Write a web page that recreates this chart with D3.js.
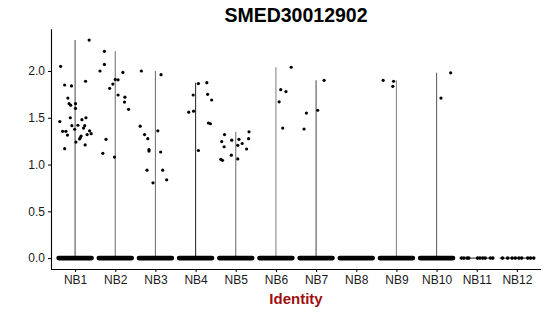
<!DOCTYPE html>
<html><head><meta charset="utf-8">
<script src="https://cdn.jsdelivr.net/npm/d3@7"></script>
<style>body{margin:0;background:#fff}svg{display:block}</style>
</head><body><div id="chart"></div>
<script>
const title = "SMED30012902";
const xTitle = "Identity";
const categories = ["NB1","NB2","NB3","NB4","NB5","NB6","NB7","NB8","NB9","NB10","NB11","NB12"];
const yTicks = [0, 0.5, 1.0, 1.5, 2.0];
// maximum expression per identity (violin top); 0 = all cells zero
const maxValue = [2.33, 2.21, 2.00, 1.875, 1.35, 2.04, 1.90, 0, 1.90, 1.98, 0, 0];
// dense cluster of zero-expression cells (true) or sparse (false)
const denseZero = [true,true,true,true,true,true,true,true,true,true,false,false];
// non-zero cells: identity, value, jitter (in category widths)
const ptCat = [
  "NB1","NB1","NB1","NB1","NB1","NB1","NB1","NB1","NB1","NB1","NB1","NB1","NB1","NB1","NB1","NB1","NB1","NB1","NB1","NB1","NB1","NB1","NB1","NB1","NB1","NB1","NB1","NB1","NB1","NB1","NB1",
  "NB2","NB2","NB2","NB2","NB2","NB2","NB2","NB2","NB2","NB2","NB2","NB2","NB2","NB2","NB2",
  "NB3","NB3","NB3","NB3","NB3","NB3","NB3","NB3","NB3","NB3","NB3","NB3","NB3",
  "NB4","NB4","NB4","NB4","NB4","NB4","NB4","NB4","NB4","NB4",
  "NB5","NB5","NB5","NB5","NB5","NB5","NB5","NB5","NB5","NB5","NB5","NB5","NB5","NB5",
  "NB6","NB6","NB6","NB6","NB6",
  "NB7","NB7","NB7","NB7",
  "NB9","NB9","NB9",
  "NB10","NB10"];
const ptValue = [
  2.33,2.05,1.89,1.85,1.84,1.71,1.65,1.635,1.65,1.60,1.50,1.46,1.50,1.48,1.415,1.42,1.415,1.39,1.377,1.355,1.355,1.315,1.36,1.33,1.32,1.305,1.287,1.273,1.24,1.21,1.17,
  2.21,2.07,2.00,1.985,1.91,1.905,1.86,1.815,1.743,1.72,1.668,1.59,1.27,1.12,1.08,
  2.00,1.96,1.41,1.32,1.276,1.36,1.16,1.144,1.134,0.94,0.94,0.837,0.805,
  1.865,1.875,1.743,1.75,1.69,1.56,1.57,1.444,1.436,1.15,
  1.32,1.245,1.19,1.056,1.045,1.26,1.10,1.06,1.27,1.205,1.225,1.35,1.276,1.166,
  2.04,1.80,1.78,1.67,1.39,
  1.90,1.58,1.55,1.38,
  1.90,1.89,1.836,
  1.98,1.71];
const ptJitter = [
  0.35,-0.36,0.26,-0.26,-0.09,-0.18,-0.15,-0.11,0.01,0.01,-0.12,-0.38,0.27,0.17,-0.08,0.07,0.24,0.21,-0.01,-0.31,-0.23,-0.19,0.36,0.40,0.30,0.15,0.13,0.11,0.02,0.25,-0.26,
  -0.27,-0.27,-0.38,0.19,0.0,0.07,-0.06,-0.14,0.07,0.24,0.23,0.33,-0.23,-0.31,-0.02,
  -0.35,0.14,-0.38,-0.27,-0.19,0.06,-0.16,-0.16,0.13,-0.21,0.18,0.28,-0.06,
  0.07,0.28,-0.06,0.30,0.40,-0.17,-0.05,0.32,0.37,0.07,
  -0.28,-0.35,-0.29,-0.37,-0.33,-0.10,-0.11,0.05,0.08,0.05,0.16,0.33,0.32,0.27,
  0.38,0.12,0.25,0.08,0.17,
  0.20,0.04,-0.24,-0.30,
  -0.33,-0.07,-0.09,
  0.35,0.11];
// sparse zero-expression cells (jitter in category widths)
const zeroCat = ["NB11","NB11","NB11","NB11","NB11","NB11","NB11","NB11","NB11","NB11",
                 "NB12","NB12","NB12","NB12","NB12","NB12","NB12","NB12","NB12"];
const zeroJitter = [-0.38,-0.32,-0.24,-0.20,0.02,0.08,0.15,0.21,0.34,0.40,
                    -0.36,-0.23,-0.12,-0.04,0.05,0.12,0.27,0.34,0.42];

// styles
const lineGrey = ["#555","#777","#777","#333","#777","#888","#555","#777","#888","#666","#777","#777"];

const W = 550, H = 316;
const m = {left: 51, right: 9, top: 29.2, bottom: 47};
const svg = d3.select("#chart").append("svg").attr("width", W).attr("height", H);

const x = d3.scalePoint().domain(categories).range([m.left, W - m.right]).padding(0.6);
const step = x.step();
const yMax = d3.max(ptValue);
const pad = 0.05 * yMax;
const y = d3.scaleLinear().domain([-pad, yMax + pad]).range([H - m.bottom, m.top]);

const g = svg.append("g");

// violin (trimmed, very thin): base line + stem to max
categories.forEach((c, i) => {
  g.append("line")
    .attr("x1", x(c) - 0.43 * step).attr("x2", x(c) + 0.43 * step)
    .attr("y1", y(0)).attr("y2", y(0))
    .attr("stroke", "#222").attr("stroke-width", 1);
  if (maxValue[i] > 0) {
    g.append("line")
      .attr("x1", x(c)).attr("x2", x(c))
      .attr("y1", y(0)).attr("y2", y(maxValue[i]))
      .attr("stroke", lineGrey[i]).attr("stroke-width", 1.1);
  }
});

// dense zero cells
categories.forEach((c, i) => {
  if (denseZero[i]) {
    g.append("line")
      .attr("x1", x(c) - 0.41 * step).attr("x2", x(c) + 0.41 * step)
      .attr("y1", y(0)).attr("y2", y(0))
      .attr("stroke", "#000").attr("stroke-width", 4.6)
      .attr("stroke-linecap", "round");
  }
});
// sparse zero cells
g.selectAll("circle.z").data(zeroCat).join("circle").attr("class", "z")
  .attr("cx", (d, i) => x(d) + zeroJitter[i] * step)
  .attr("cy", y(0)).attr("r", 1.8).attr("fill", "#000");

// non-zero cells
g.selectAll("circle.p").data(ptCat).join("circle").attr("class", "p")
  .attr("cx", (d, i) => x(d) + ptJitter[i] * step)
  .attr("cy", (d, i) => y(ptValue[i])).attr("r", 1.6).attr("fill", "#000");

// axes
const yAxis = svg.append("g").attr("transform", `translate(${m.left},0)`)
  .call(d3.axisLeft(y).tickValues(yTicks).tickFormat(d3.format(".1f")).tickSize(3).tickPadding(3));
const xAxis = svg.append("g").attr("transform", `translate(0,${H - m.bottom})`)
  .call(d3.axisBottom(x).tickSize(3).tickPadding(3));
[yAxis, xAxis].forEach(a => {
  a.select(".domain").attr("stroke", "#000").attr("stroke-width", 1.1);
  a.selectAll(".tick line").attr("stroke", "#000");
  a.selectAll("text").attr("fill", "#1a1a1a").attr("font-family", "Liberation Sans, Arial, sans-serif").attr("font-size", 12);
});
xAxis.select(".domain").attr("d", `M${m.left},0.5H${W - m.right}`);
yAxis.select(".domain").attr("d", `M0.5,${y.range()[1]}V${y.range()[0]}`);

svg.append("text").attr("x", (m.left + W - m.right) / 2).attr("y", 22)
  .attr("text-anchor", "middle").attr("font-family", "Liberation Sans, Arial, sans-serif")
  .attr("font-weight", "bold").attr("font-size", 19.5).attr("fill", "#000").text(title);
svg.append("text").attr("x", (m.left + W - m.right) / 2).attr("y", 304)
  .attr("text-anchor", "middle").attr("font-family", "Liberation Sans, Arial, sans-serif")
  .attr("font-weight", "bold").attr("font-size", 15).attr("fill", "#a00f0f").text(xTitle);
</script></body></html>
